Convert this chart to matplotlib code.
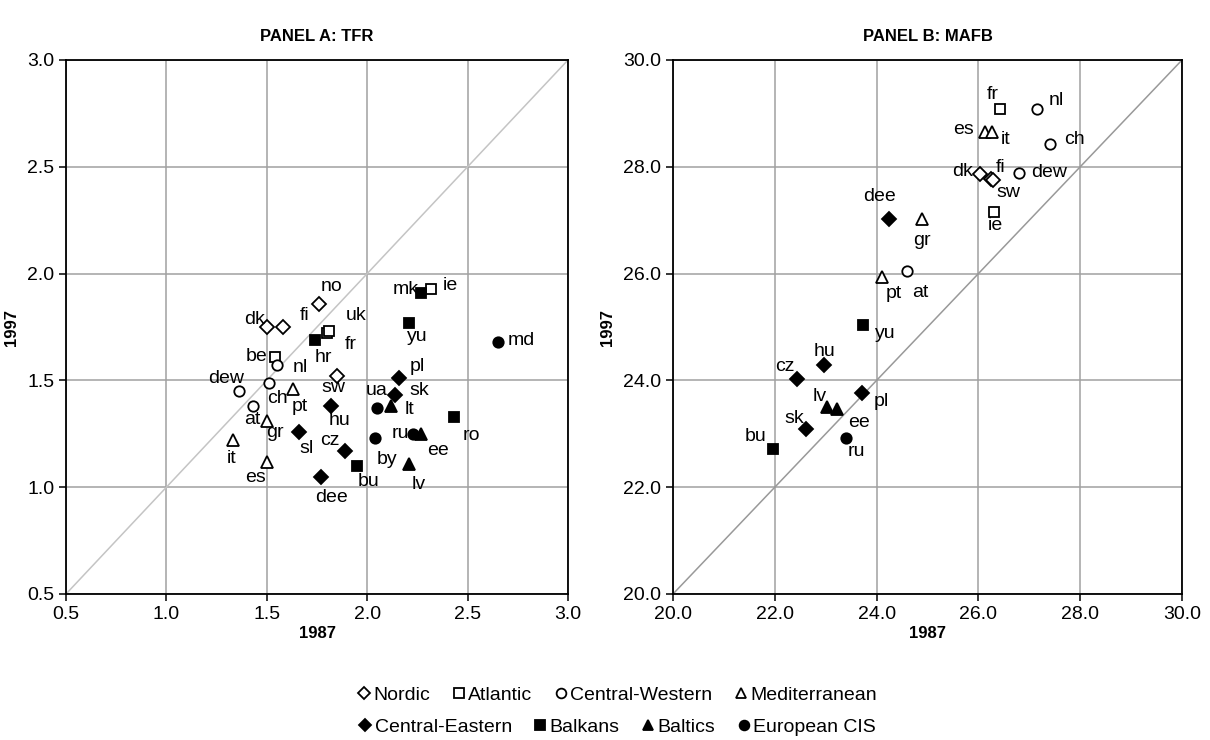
import numpy as np
import matplotlib.pyplot as plt
from matplotlib.lines import Line2D

plt.rcParams['font.family'] = ['Liberation Sans', 'DejaVu Sans']

# region groups: name, marker, filled
groups = [
    ('Nordic', 'D', False),
    ('Atlantic', 's', False),
    ('Central-Western', 'o', False),
    ('Mediterranean', '^', False),
    ('Central-Eastern', 'D', True),
    ('Balkans', 's', True),
    ('Baltics', '^', True),
    ('European CIS', 'o', True),
]

# Panel A: total fertility rate, 1987 vs 1997
tfr_codes = ['dk', 'fi', 'no', 'sw',
             'be', 'fr', 'ie', 'uk',
             'at', 'ch', 'dew', 'nl',
             'es', 'gr', 'it', 'pt',
             'cz', 'dee', 'hu', 'pl', 'sk', 'sl',
             'bu', 'hr', 'mk', 'ro', 'yu',
             'ee', 'lt', 'lv',
             'by', 'md', 'ru', 'ua']
tfr_group = [0] * 4 + [1] * 4 + [2] * 4 + [3] * 4 + [4] * 6 + [5] * 5 + [6] * 3 + [7] * 4
tfr_1987 = [1.50, 1.58, 1.76, 1.85,
            1.54, 1.80, 2.32, 1.81,
            1.43, 1.51, 1.36, 1.55,
            1.50, 1.50, 1.33, 1.63,
            1.89, 1.77, 1.82, 2.16, 2.14, 1.66,
            1.95, 1.74, 2.27, 2.43, 2.21,
            2.27, 2.12, 2.21,
            2.04, 2.65, 2.23, 2.05]
tfr_1997 = [1.75, 1.75, 1.86, 1.52,
            1.61, 1.72, 1.93, 1.73,
            1.38, 1.49, 1.45, 1.57,
            1.12, 1.31, 1.22, 1.46,
            1.17, 1.05, 1.38, 1.51, 1.43, 1.26,
            1.10, 1.69, 1.91, 1.33, 1.77,
            1.25, 1.38, 1.11,
            1.23, 1.68, 1.25, 1.37]

# Panel B: mean age at first birth, 1987 vs 1997
mafb_codes = ['dk', 'fi', 'sw',
              'fr', 'ie',
              'at', 'ch', 'dew', 'nl',
              'es', 'gr', 'it', 'pt',
              'cz', 'dee', 'hu', 'pl', 'sk',
              'bu', 'yu',
              'ee', 'lv',
              'ru']
mafb_group = [0] * 3 + [1] * 2 + [2] * 4 + [3] * 4 + [4] * 5 + [5] * 2 + [6] * 2 + [7]
mafb_1987 = [26.03, 26.25, 26.29,
             26.42, 26.31,
             24.60, 27.41, 26.80, 27.15,
             26.13, 24.89, 26.26, 24.10,
             22.43, 24.25, 22.97, 23.72, 22.61,
             21.96, 23.73,
             23.22, 23.02,
             23.39]
mafb_1997 = [27.86, 27.78, 27.75,
             29.08, 27.15,
             26.05, 28.43, 27.88, 29.08,
             28.66, 27.02, 28.66, 25.94,
             24.03, 27.02, 24.29, 23.76, 23.09,
             22.72, 25.04,
             23.46, 23.51,
             22.93]

# label offsets in pixels (right, up) from each marker
tfr_offsets = {
    'dk': (-12, 7), 'fi': (22, 11), 'no': (13, 17), 'sw': (-4, -11),
    'be': (-18, 0), 'fr': (24, -11), 'ie': (19, 3), 'uk': (27, 16),
    'at': (0, -13), 'ch': (9, -16), 'dew': (-13, 13), 'nl': (23, -2),
    'es': (-11, -16), 'gr': (8, -12), 'it': (-1, -18), 'pt': (7, -18),
    'cz': (-15, 10), 'dee': (10, -21), 'hu': (8, -14), 'pl': (18, 12),
    'sk': (24, 5), 'sl': (8, -17),
    'bu': (11, -16), 'hr': (8, -18), 'mk': (-16, 3), 'ro': (18, -19), 'yu': (8, -14),
    'ee': (17, -17), 'lt': (18, -3), 'lv': (9, -21),
    'by': (12, -21), 'md': (24, 1), 'ru': (-13, 0), 'ua': (-1, 18),
}
mafb_offsets = {
    'dk': (-17, 3), 'fi': (9, 11), 'sw': (15, -12),
    'fr': (-7, 15), 'ie': (1, -13),
    'at': (13, -22), 'ch': (24, 4), 'dew': (30, 1), 'nl': (19, 9),
    'es': (-22, 2), 'gr': (0, -21), 'it': (14, -8), 'pt': (12, -17),
    'cz': (-12, 12), 'dee': (-10, 23), 'hu': (0, 13), 'pl': (19, -8), 'sk': (-12, 10),
    'bu': (-17, 12), 'yu': (22, -9),
    'ee': (22, -13), 'lv': (-7, 10),
    'ru': (11, -14),
}

msizes = {'D': 7, 's': 7.5, 'o': 7.5, '^': 8}


def draw_panel(ax, codes, grp, x, y, offsets, lo, hi, step, title, diag_color):
    ticks = np.arange(lo, hi + step / 2, step)
    ax.set_xlim(lo, hi)
    ax.set_ylim(lo, hi)
    ax.set_xticks(ticks)
    ax.set_yticks(ticks)
    ax.set_xticklabels(['%.1f' % t for t in ticks])
    ax.set_yticklabels(['%.1f' % t for t in ticks])
    ax.grid(True, color='#a0a0a0', lw=1.1)
    ax.set_axisbelow(True)
    ax.plot([lo, hi], [lo, hi], color=diag_color, lw=1.1, zorder=1.5)
    for s in ax.spines.values():
        s.set_linewidth(1.3)
    ax.tick_params(labelsize=14, length=5, width=1.1, direction='out', top=False, right=False)

    for c, g, xi, yi in zip(codes, grp, x, y):
        name, m, filled = groups[g]
        ax.plot(xi, yi, m, ms=msizes[m], mfc='black' if filled else 'white',
                mec='black', mew=1.3, zorder=3)
        dx, dy = offsets[c]
        ax.annotate(c, (xi, yi), xytext=(dx, dy), textcoords='offset pixels',
                    ha='center', va='center', fontsize=14, zorder=4)

    ax.set_title(title, fontsize=12, fontweight='bold', pad=14)
    ax.set_xlabel('1987', fontsize=12, fontweight='bold', labelpad=2)
    ax.set_ylabel('1997', fontsize=12, fontweight='bold', labelpad=6)


fig = plt.figure(figsize=(12.1, 7.4), dpi=100)
ax1 = fig.add_axes([66 / 1210, 146 / 740, 502 / 1210, 534 / 740])
ax2 = fig.add_axes([673 / 1210, 146 / 740, 509 / 1210, 534 / 740])

draw_panel(ax1, tfr_codes, tfr_group, tfr_1987, tfr_1997, tfr_offsets,
           0.5, 3.0, 0.5, 'PANEL A: TFR', '#c4c4c4')
draw_panel(ax2, mafb_codes, mafb_group, mafb_1987, mafb_1997, mafb_offsets,
           20.0, 30.0, 2.0, 'PANEL B: MAFB', '#999999')

handles = []
for name, m, filled in groups:
    handles.append(Line2D([], [], ls='none', marker=m, ms=msizes[m] - 0.5,
                          mfc='black' if filled else 'white', mec='black',
                          mew=1.3, label=name))

for row, yy in [(handles[:4], 695), (handles[4:], 727)]:
    fig.legend(handles=row, loc='center', bbox_to_anchor=(0.51, 1 - yy / 740),
               ncol=4, frameon=False, fontsize=14, handlelength=0.7,
               handletextpad=0.15, columnspacing=1.1, borderaxespad=0)

fig.savefig('out.png', dpi=100)
